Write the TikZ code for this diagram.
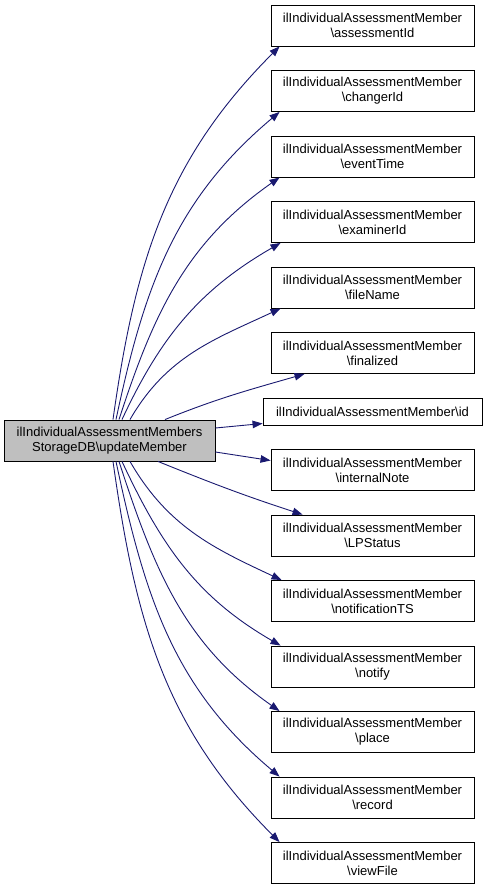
\documentclass[tikz,border=0pt]{standalone}
\usepackage{fontspec}
\setmainfont{Liberation Sans}
\usetikzlibrary{arrows.meta, positioning}

\definecolor{edgeblue}{HTML}{191970}
\tikzstyle{func} = [draw=black, fill=white, line width=0.9pt, minimum width=203pt, minimum height=41pt, inner sep=0pt, align=center, font=\fontsize{13}{15}\selectfont]
\tikzstyle{root} = [func, fill=black!25, minimum width=211pt]
\tikzstyle{call} = [edgeblue, line width=0.9pt, -{Triangle[length=10pt, width=7.5pt]}]

\begin{document}
\begin{tikzpicture}[x=1pt, y=1pt, node distance=23.6pt]
    \useasboundingbox (0,0) rectangle (487,-888);

    \node[root] (upd) at (109.5,-440.5) {ilIndividualAssessmentMembers\\StorageDB\textbackslash updateMember};

    \node[func] (assessmentId) at (372.5,-25.5) {ilIndividualAssessmentMember\\\textbackslash assessmentId};
    \node[func] (changerId) [below=of assessmentId] {ilIndividualAssessmentMember\\\textbackslash changerId};
    \node[func] (eventTime) [below=of changerId] {ilIndividualAssessmentMember\\\textbackslash eventTime};
    \node[func] (examinerId) [below=of eventTime] {ilIndividualAssessmentMember\\\textbackslash examinerId};
    \node[func] (fileName) [below=of examinerId] {ilIndividualAssessmentMember\\\textbackslash fileName};
    \node[func] (finalized) [below=of fileName] {ilIndividualAssessmentMember\\\textbackslash finalized};
    \node[func] (id) [below=of finalized, minimum width=219pt, minimum height=27pt] {ilIndividualAssessmentMember\textbackslash id};
    \node[func] (internalNote) [below=of id] {ilIndividualAssessmentMember\\\textbackslash internalNote};
    \node[func] (LPStatus) [below=of internalNote] {ilIndividualAssessmentMember\\\textbackslash LPStatus};
    \node[func] (notificationTS) [below=of LPStatus] {ilIndividualAssessmentMember\\\textbackslash notificationTS};
    \node[func] (notify) [below=of notificationTS] {ilIndividualAssessmentMember\\\textbackslash notify};
    \node[func] (place) [below=of notify] {ilIndividualAssessmentMember\\\textbackslash place};
    \node[func] (record) [below=of place] {ilIndividualAssessmentMember\\\textbackslash record};
    \node[func] (viewFile) [below=of record] {ilIndividualAssessmentMember\\\textbackslash viewFile};

    % calls above the caller
    \foreach \T / \sx / \tx / \o / \i in {assessmentId/3.5/9/82/-135, changerId/6.5/9/78/-140, eventTime/9.5/9/72/-145, examinerId/12.5/10/65/-150, fileName/20.5/10/60/-155, finalized/55.5/34/22/-164}{
    \draw[call] ([xshift=\sx]upd.north) to [out=\o, in=\i] ([xshift=\tx]\T.south west);
    }

    % calls beside the caller
    \draw[call] ([yshift=12.5]upd.east) -- ([yshift=-12]id.west);
    \draw[call] ([yshift=-11.5]upd.east) -- ([yshift=9.5]internalNote.west);

    % calls below the caller
    \foreach \T / \sx / \tx / \o / \i in {LPStatus/48.5/32/-22/162, notificationTS/20.5/11/-60/155, notify/12.5/10/-65/150, place/9.5/9/-72/145, record/6.5/9/-78/140, viewFile/3.5/9/-82/135}{
    \draw[call] ([xshift=\sx]upd.south) to [out=\o, in=\i] ([xshift=\tx]\T.north west);
    }
\end{tikzpicture}
\end{document}
